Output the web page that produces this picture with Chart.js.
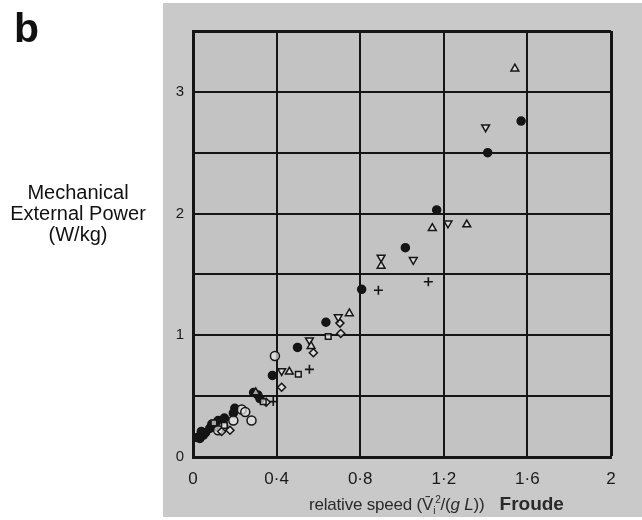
<!DOCTYPE html>
<html>
<head>
<meta charset="utf-8">
<script src="https://cdn.jsdelivr.net/npm/chart.js@4/dist/chart.umd.min.js"></script>
<style>
  body { margin: 0; background: #fff; }
  #wrap { position: relative; width: 642px; height: 520px; font-family: 'Liberation Sans', Arial, sans-serif; }
  #panel-letter { position: absolute; left: 14px; top: 5px; font-size: 41px; font-weight: bold; color: #111; }
  #ytitle { position: absolute; left: 0; width: 156px; top: 182px; text-align: center; font-size: 20px; line-height: 21px; color: #111; }
  #xtitle { position: absolute; left: 309px; top: 493px; white-space: nowrap; color: #2a2a2a; }
  #xtitle .rs { font-size: 17px; letter-spacing: -0.2px; }
  #xtitle .fr { font-size: 19px; font-weight: bold; margin-left: 15px; }
  canvas { position: absolute; left: 0; top: 0; }
</style>
</head>
<body>
<div id="wrap">
  <canvas id="chart" width="642" height="520"></canvas>
  <div id="panel-letter">b</div>
  <div id="ytitle">Mechanical<br>External Power<br>(W/kg)</div>
  <div id="xtitle"><span class="rs">relative speed (V&#772;<sub style="font-size:10px">i</sub><sup style="font-size:10px">2</sup>/(<i>g L</i>))</span><span class="fr">Froude</span></div>
</div>
<script>
// x = relative speed (Froude), y = mechanical external power (W/kg)
const xTicks = [0, 0.4, 0.8, 1.2, 1.6, 2]
const yTicks = [0, 0.5, 1, 1.5, 2, 2.5, 3, 3.5]

const filledCircles = [
  [1.57, 2.76], [1.41, 2.50], [1.166, 2.03], [1.016, 1.72], [0.807, 1.378],
  [0.636, 1.107], [0.50, 0.90], [0.38, 0.67], [0.31, 0.51], [0.29, 0.53],
  [0.32, 0.48], [0.193, 0.36], [0.20, 0.40], [0.137, 0.29], [0.12, 0.30],
  [0.105, 0.25], [0.08, 0.235], [0.05, 0.18], [0.033, 0.153], [0.02, 0.16],
  [0.06, 0.20], [0.09, 0.27], [0.15, 0.32], [0.04, 0.21]
]
const openCircles = [
  [0.392, 0.83], [0.233, 0.39], [0.28, 0.30], [0.193, 0.30], [0.145, 0.25],
  [0.12, 0.22], [0.25, 0.37]
]
const trianglesUp = [
  [1.54, 3.19], [1.145, 1.88], [1.31, 1.91], [0.90, 1.57], [0.748, 1.18],
  [0.565, 0.91], [0.461, 0.70], [0.30, 0.53]
]
const trianglesDown = [
  [1.40, 2.71], [1.22, 1.92], [1.054, 1.62], [0.90, 1.64], [0.695, 1.15],
  [0.557, 0.96], [0.424, 0.707]
]
const squares = [
  [0.647, 0.99], [0.504, 0.68], [0.336, 0.455], [0.10, 0.28], [0.15, 0.26]
]
const diamonds = [
  [0.707, 1.015], [0.703, 1.10], [0.576, 0.857], [0.424, 0.573],
  [0.177, 0.22], [0.137, 0.21], [0.35, 0.45]
]
const crosses = [
  [1.126, 1.44], [0.887, 1.37], [0.557, 0.72], [0.384, 0.455]
]

const ink = '#151515'
const hollow = 'rgba(230,230,230,0.7)'

const toPts = arr => arr.map(([x, y]) => ({ x, y }))

const series = (data, style, opts = {}) => ({
  data: toPts(data),
  pointStyle: style,
  pointRadius: 4,
  pointBorderWidth: 1.5,
  pointBorderColor: ink,
  pointBackgroundColor: hollow,
  showLine: false,
  ...opts
})

const paperPlugin = {
  id: 'paper',
  beforeDraw: (chart) => {
    const { ctx, chartArea: a } = chart
    ctx.save()
    ctx.fillStyle = '#ffffff'
    ctx.fillRect(0, 0, chart.width, chart.height)
    ctx.fillStyle = '#c9c9c9'
    ctx.fillRect(163, 3, chart.width - 163, 514)
    ctx.fillStyle = '#c3c3c3'
    ctx.fillRect(a.left, a.top, a.right - a.left, a.bottom - a.top)
    ctx.restore()
  }
}

const fmtX = v => (Math.round(v * 10) / 10).toString().replace('.', '·')

new Chart(document.getElementById('chart').getContext('2d'), {
  type: 'scatter',
  data: {
    datasets: [
      series(trianglesUp, 'triangle', { pointRadius: 4.5 }),
      series(trianglesDown, 'triangle', { pointRadius: 4.5, pointRotation: 180 }),
      series(squares, 'rect', { pointRadius: 4 }),
      series(diamonds, 'rectRot', { pointRadius: 4 }),
      series(openCircles, 'circle', { pointRadius: 4.5 }),
      series(crosses, 'cross', { pointRadius: 4.5, pointBorderWidth: 1.6 }),
      series(filledCircles, 'circle', { pointRadius: 4, pointBackgroundColor: ink })
    ]
  },
  options: {
    responsive: false,
    animation: false,
    events: [],
    layout: { padding: { left: 163, top: 31, right: 31, bottom: 0 } },
    plugins: { legend: { display: false }, tooltip: { enabled: false } },
    scales: {
      x: {
        type: 'linear',
        min: 0,
        max: 2,
        afterBuildTicks: (s) => { s.ticks = xTicks.map(value => ({ value })) },
        afterFit: (s) => { s.height = 63 },
        grid: {
          drawTicks: false,
          color: ink,
          lineWidth: (c) => (c.tick && c.tick.value === 2 ? 3 : 2)
        },
        border: { display: true, color: ink, width: 3 },
        ticks: {
          padding: 12,
          color: '#1a1a1a',
          font: { family: "'Liberation Sans', Arial, sans-serif", size: 17 },
          callback: (v) => fmtX(v)
        }
      },
      y: {
        type: 'linear',
        min: 0,
        max: 3.5,
        afterBuildTicks: (s) => { s.ticks = yTicks.map(value => ({ value })) },
        afterFit: (s) => { s.width = 30 },
        grid: {
          drawTicks: false,
          color: ink,
          lineWidth: (c) => (c.tick && c.tick.value === 3.5 ? 3 : 2)
        },
        border: { display: true, color: ink, width: 3 },
        ticks: {
          padding: 9,
          color: '#1a1a1a',
          font: { family: "'Liberation Sans', Arial, sans-serif", size: 15 },
          callback: (v) => (Number.isInteger(v) ? String(v) : '')
        }
      }
    }
  },
  plugins: [paperPlugin]
})
</script>
</body>
</html>
